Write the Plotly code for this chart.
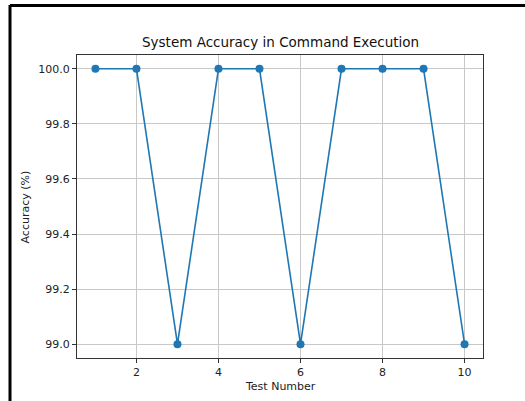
import plotly.graph_objects as go

test_numbers = [1, 2, 3, 4, 5, 6, 7, 8, 9, 10]
accuracy = [100.0, 100.0, 99.0, 100.0, 100.0, 99.0, 100.0, 100.0, 100.0, 99.0]
x_ticks = [2, 4, 6, 8, 10]
y_ticks = [99.0, 99.2, 99.4, 99.6, 99.8, 100.0]

W, H = 525, 401
L, R, T, B = 77, 483, 55, 358
pw, ph = R - L, B - T

def px(x):
    return (x - L) / pw

def py(y):
    return (B - y) / ph

fig = go.Figure()
fig.add_trace(go.Scatter(
    x=test_numbers, y=accuracy, mode="lines+markers",
    line=dict(color="#1f77b4", width=1.6),
    marker=dict(color="#1f77b4", size=8),
    showlegend=False,
))

font = "DejaVu Sans, Liberation Sans, sans-serif"
fig.update_layout(
    width=W, height=H,
    margin=dict(l=L, r=W - R, t=T, b=H - B),
    paper_bgcolor="white", plot_bgcolor="white",
    font=dict(family=font, size=11, color="#222"),
    xaxis=dict(
        range=[0.55, 10.45], tickvals=x_ticks, ticktext=[str(v) for v in x_ticks],
        showgrid=True, gridcolor="#c8c8c8", gridwidth=1,
        showline=True, linecolor="#333", linewidth=1, mirror=True,
        ticks="outside", ticklen=4, tickcolor="#333", zeroline=False,
    ),
    yaxis=dict(
        range=[98.95, 100.05], tickvals=y_ticks, ticktext=[f"{v:.1f}" for v in y_ticks],
        showgrid=True, gridcolor="#c8c8c8", gridwidth=1,
        showline=True, linecolor="#333", linewidth=1, mirror=True,
        ticks="outside", ticklen=4, tickcolor="#333", zeroline=False,
    ),
    annotations=[
        dict(text="System Accuracy in Command Execution", xref="paper", yref="paper",
             x=0.5, y=py(42), xanchor="center", yanchor="middle", showarrow=False,
             font=dict(size=13.5, color="#111")),
        dict(text="Test Number", xref="paper", yref="paper",
             x=0.5, y=py(386), xanchor="center", yanchor="middle", showarrow=False,
             font=dict(size=11, color="#222")),
        dict(text="Accuracy (%)", xref="paper", yref="paper", textangle=-90,
             x=px(25), y=0.5, xanchor="center", yanchor="middle", showarrow=False,
             font=dict(size=11, color="#222")),
    ],
    shapes=[
        dict(type="line", xref="paper", yref="paper", x0=px(10), x1=px(10),
             y0=py(5), y1=py(401), line=dict(color="black", width=3)),
        dict(type="line", xref="paper", yref="paper", x0=px(10), x1=px(525),
             y0=py(5.5), y1=py(5.5), line=dict(color="black", width=3)),
    ],
)

fig.write_html(
    "out.html",
    config={"displayModeBar": False, "responsive": False},
    post_script="document.body.style.margin='0px';document.body.style.padding='0px';",
)
